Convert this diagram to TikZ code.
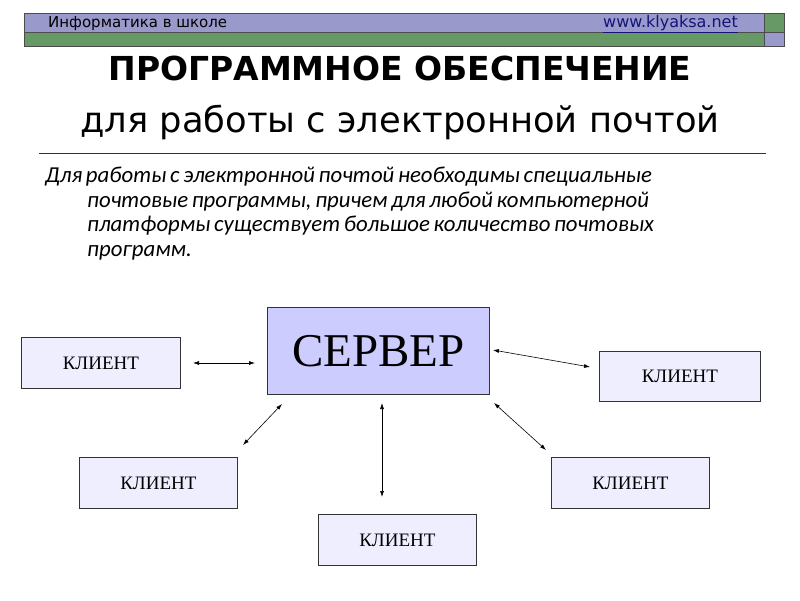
\documentclass[tikz,border=0pt]{standalone}
\usepackage{fontspec}
\setmainfont{Liberation Serif}
\newfontfamily\dejavu{DejaVu Sans}
\newfontfamily\carlito{Carlito}
\usetikzlibrary{arrows.meta}
\definecolor{hdrpurple}{RGB}{153,153,204}
\definecolor{hdrgreen}{RGB}{102,153,102}
\definecolor{srvfill}{RGB}{204,204,255}
\definecolor{clifill}{RGB}{238,238,255}
\definecolor{linkblue}{RGB}{20,20,120}
\tikzset{
  box/.style={draw=black!80, line width=0.8pt, inner sep=0pt, anchor=north west},
  client/.style={box, fill=clifill, font=\fontsize{19}{19}\selectfont},
  conn/.style={{Latex[length=6pt,width=4pt]}-{Latex[length=6pt,width=4pt]}, line width=0.6pt, black},
  hdr/.style={draw=black!70, line width=0.8pt}
}
\begin{document}
\begin{tikzpicture}[x=1pt,y=-1pt]
\useasboundingbox (0,0) rectangle (800,600);
% header
\fill[hdrpurple] (24,13) rectangle (764,32);
\fill[hdrgreen] (764,13) rectangle (784,32);
\fill[hdrgreen] (24,32) rectangle (764,46);
\fill[hdrpurple] (764,32) rectangle (784,46);
\draw[hdr] (24,13) rectangle (784,46);
\draw[hdr] (24,32) -- (784,32);
\draw[hdr] (764,13) -- (764,46);
\node[anchor=base west, inner sep=0pt, font=\dejavu\fontsize{15}{15}\selectfont] (hl) at (48,27) {Информатика в школе};
\node[anchor=base east, inner sep=0pt, text=linkblue, font=\dejavu\fontsize{16}{16}\selectfont] (hr) at (738,27) {\underline{www.klyaksa.net}};
% titles
\node[anchor=base, inner sep=0pt, font=\dejavu\bfseries\fontsize{33}{33}\selectfont] (t1) at (400,80) {ПРОГРАММНОЕ ОБЕСПЕЧЕНИЕ};
\node[anchor=base, inner sep=0pt, font=\dejavu\fontsize{35.3}{35.3}\selectfont] (t2) at (400,132) {для работы с электронной почтой};
\draw[black!80, line width=0.7pt] (39,153) -- (766,153);
% paragraph
\node[anchor=north west, inner sep=0pt, text width=700pt, font=\carlito\itshape\fontsize{22.8}{24.5}\selectfont] (para) at (45,167)
{\raggedright\spaceskip=0.16em plus 0.05em\hangindent=42pt\hangafter=1 Для работы с электронной почтой необходимы специальные\newline почтовые программы, причем для любой компьютерной\newline платформы существует большое количество почтовых\newline программ.\par};
% boxes
\node[box, fill=srvfill, minimum width=222pt, minimum height=87pt, font=\fontsize{47}{47}\selectfont] (srv) at (267,307) {СЕРВЕР};
\node[client, minimum width=159pt, minimum height=51pt] (c1) at (21,337) {КЛИЕНТ};
\node[client, minimum width=161pt, minimum height=50pt] (c2) at (599,351) {КЛИЕНТ};
\node[client, minimum width=158pt, minimum height=51pt] (c3) at (79,457) {КЛИЕНТ};
\node[client, minimum width=158pt, minimum height=51pt] (c4) at (551,457) {КЛИЕНТ};
\node[client, minimum width=158pt, minimum height=51pt] (c5) at (318,514) {КЛИЕНТ};
% connectors
\coordinate (a1) at (193,363); \coordinate (b1) at (255,363);
\coordinate (a2) at (493,350); \coordinate (b2) at (590,367);
\coordinate (a3) at (282,404); \coordinate (b3) at (243,445);
\coordinate (a4) at (382,403); \coordinate (b4) at (382,497);
\coordinate (a5) at (494,403); \coordinate (b5) at (546,450);
\draw[conn] (a1) -- (b1);
\draw[conn] (a2) -- (b2);
\draw[conn] (a3) -- (b3);
\draw[conn] (a4) -- (b4);
\draw[conn] (a5) -- (b5);
\end{tikzpicture}
\end{document}
